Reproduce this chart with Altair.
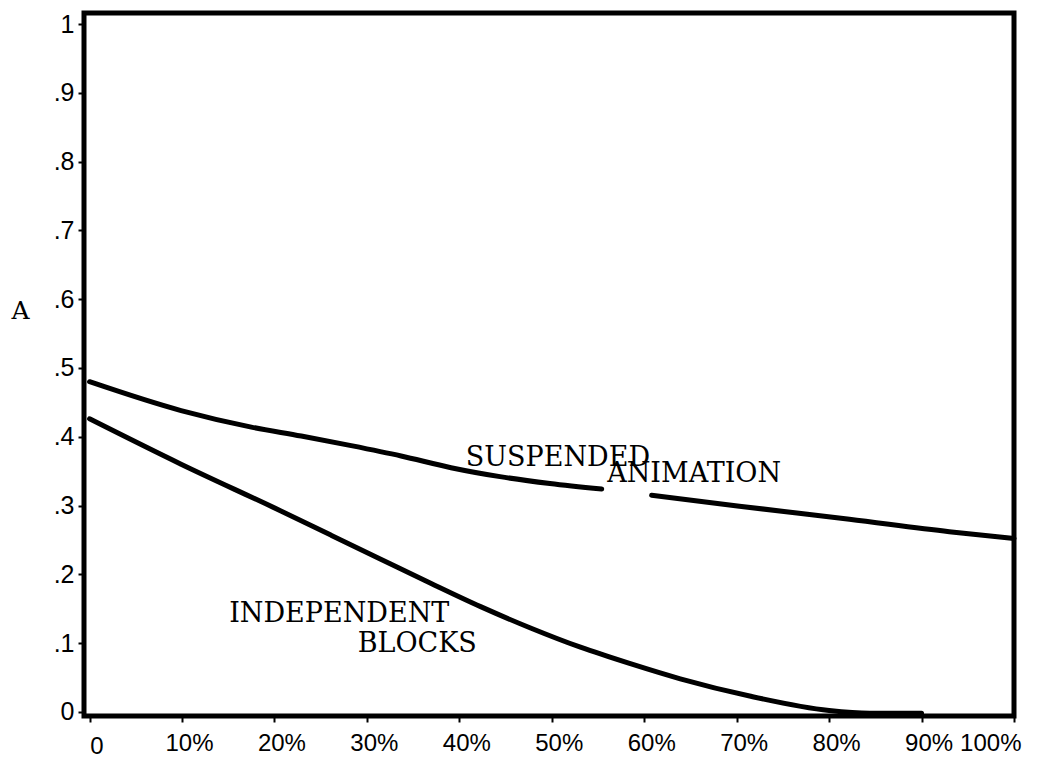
import altair as alt
import pandas as pd

# Suspended animation curve (drawn in two pieces; gap where the label crosses it)
sa_x1 = [0, 9.9, 17.5, 22.9, 28.3, 33.7, 39.1, 44.4, 49.8, 55.4]
sa_y1 = [0.480, 0.438, 0.414, 0.401, 0.387, 0.372, 0.355, 0.342, 0.332, 0.324]
sa_x2 = [60.8, 70.3, 82.2, 93.0, 100]
sa_y2 = [0.315, 0.299, 0.280, 0.262, 0.252]

# Independent blocks curve
ib_x = [0, 9.9, 20.7, 26.1, 31.5, 36.9, 42.3, 47.7, 53.1, 58.5, 63.9, 71.4, 80.0, 84.4, 90.0]
ib_y = [0.426, 0.360, 0.292, 0.257, 0.222, 0.187, 0.153, 0.122, 0.094, 0.070, 0.048, 0.023, 0.002, -0.002, -0.002]

# Curve labels (anchored at their left end, on the text baseline)
label_text = ["SUSPENDED", "ANIMATION", "INDEPENDENT", "BLOCKS"]
label_x = [40.7, 56.0, 15.1, 29.0]
label_y = [0.358, 0.334, 0.131, 0.087]

# Axis ticks
x_ticks = [0, 10, 20, 30, 40, 50, 60, 70, 80, 90, 100]
y_ticks = [0, 0.1, 0.2, 0.3, 0.4, 0.5, 0.6, 0.7, 0.8, 0.9, 1]

rows = []
for x, y in zip(sa_x1, sa_y1):
    rows.append({"x": x, "y": y, "seg": "sa1"})
for x, y in zip(sa_x2, sa_y2):
    rows.append({"x": x, "y": y, "seg": "sa2"})
for x, y in zip(ib_x, ib_y):
    rows.append({"x": x, "y": y, "seg": "ib"})
lines_df = pd.DataFrame(rows)
labels_df = pd.DataFrame({"t": label_text, "x": label_x, "y": label_y})

x_scale = alt.Scale(domain=[-0.6, 100], nice=False, zero=False)
y_scale = alt.Scale(domain=[-0.006, 1.016], nice=False, zero=False)

x_axis = alt.Axis(
    values=x_ticks,
    labelExpr="datum.value == 0 ? '0' : datum.value + '%'",
    domain=False, grid=False,
    tickSize=6, tickWidth=2, tickColor="black",
    labelFont="Liberation Sans", labelFontSize=24, labelColor="black",
    labelOffset=7,
    labelPadding={"condition": {"test": "datum.value == 0", "value": 12}, "value": 9},
    title=None,
)
y_axis = alt.Axis(
    values=y_ticks,
    labelExpr="datum.value == 0 ? '0' : datum.value == 1 ? '1' : '.' + round(datum.value * 10)",
    domain=False, grid=False,
    tickSize=6, tickWidth=2, tickColor="black",
    labelFont="Liberation Sans", labelFontSize=25, labelColor="black",
    labelPadding=4,
    title="A", titleAngle=0, titleFont="DejaVu Serif", titleFontSize=25,
    titleFontWeight="normal", titleColor="black",
    titleX=-64, titleY=297, titleAlign="center", titleBaseline="middle",
)

lines = alt.Chart(lines_df).mark_line(
    color="black", strokeWidth=5, interpolate="monotone", strokeCap="round"
).encode(
    x=alt.X("x:Q", scale=x_scale, axis=x_axis),
    y=alt.Y("y:Q", scale=y_scale, axis=y_axis),
    detail="seg:N",
)

texts = alt.Chart(labels_df).mark_text(
    font="DejaVu Serif", fontSize=27, color="black", align="left", baseline="alphabetic"
).encode(
    x=alt.X("x:Q", scale=x_scale),
    y=alt.Y("y:Q", scale=y_scale),
    text="t:N",
)

chart = alt.layer(lines, texts).properties(
    width=930, height=703,
    autosize=alt.AutoSizeParams(type="none"),
    padding={"left": 76, "top": 5, "right": 30, "bottom": 42},
).configure(
    background="white",
    view=alt.ViewConfig(stroke="black", strokeWidth=5),
)

chart.save("out.html", embed_options={"renderer": "svg", "actions": False})
